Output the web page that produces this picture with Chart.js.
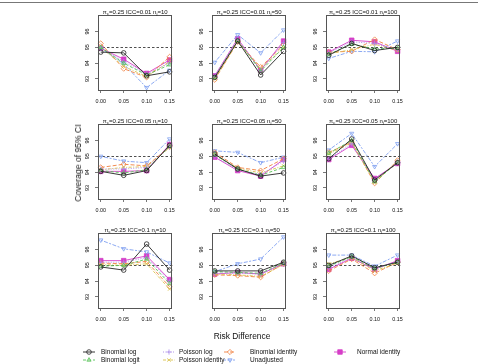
<!DOCTYPE html>
<html>
<head>
<meta charset="utf-8">
<script src="https://cdn.jsdelivr.net/npm/chart.js@4.4.1/dist/chart.umd.min.js"></script>
<style>
  body { margin: 0; background: #fff; }
  #wrap { position: relative; width: 478px; height: 364px; overflow: hidden; font-family: "Liberation Sans", Arial, sans-serif; color: #111; }
  #wrap canvas.panel { position: absolute; }
  .frame { position: absolute; left: 0; top: 2px; width: 478px; height: 0; border-top: 1px solid #777; }
  .txt { will-change: transform; opacity: 0.999; }
  .ylab { position: absolute; left: 78px; top: 163px; font-size: 8.6px; white-space: nowrap; transform: translate(-50%, -50%) rotate(-90deg); }
  .xlab { position: absolute; left: 242px; top: 336px; font-size: 8.4px; white-space: nowrap; transform: translate(-50%, -50%); }
  .legtxt { position: absolute; font-size: 6.5px; white-space: nowrap; line-height: 8px; }
  .legsw { position: absolute; }
</style>
</head>
<body>
<div id="wrap">
  <div class="frame"></div>
  <div class="ylab txt">Coverage of 95% CI</div>
  <div class="xlab txt">Risk Difference</div>
</div>
<script>
// x positions and tick labels
const riskDiff = [0, 0.05, 0.10, 0.15];
const xTickLabels = ['0.00', '0.05', '0.10', '0.15'];
const yTickValues = [93, 94, 95, 96];
const nominalLevel = 95;

const seriesNames = ['Binomial log', 'Binomial logit', 'Poisson log', 'Poisson identity',
                     'Binomial identity', 'Unadjusted', 'Normal identity'];
const piC = '0.25';
const iccLevels = ['0.01', '0.05', '0.1'];   // panel rows
const clusterSizes = ['10', '50', '100'];    // panel columns

// coverage (%) per panel, one row per series in seriesNames order
const covIcc001n10 = [
    [94.7, 94.65, 93.2, 93.45],
    [95.0, 94.0, 93.25, 93.9],
    [95.0, 94.1, 93.3, 94.0],
    [95.0, 93.8, 93.15, 94.1],
    [95.25, 93.65, 93.1, 94.4],
    [94.95, 93.95, 92.45, 93.55],
    [94.95, 94.25, 93.35, 94.2]
];
const covIcc001n50 = [
    [93.1, 95.4, 93.25, 94.75],
    [93.1, 95.45, 93.5, 95.0],
    [93.2, 95.5, 93.55, 95.3],
    [93.0, 95.35, 93.65, 95.0],
    [92.95, 95.35, 93.75, 95.15],
    [94.05, 95.8, 94.65, 96.1],
    [93.2, 95.55, 93.55, 95.4]
];
const covIcc001n100 = [
    [94.5, 95.25, 94.8, 95.0],
    [94.55, 95.2, 94.9, 94.95],
    [94.65, 95.35, 95.25, 94.85],
    [94.6, 94.85, 95.2, 94.8],
    [94.7, 94.75, 95.5, 94.85],
    [94.3, 94.75, 94.72, 95.4],
    [94.7, 95.45, 95.35, 94.75]
];
const covIcc005n10 = [
    [94.05, 93.8, 94.1, 95.7],
    [94.1, 93.95, 94.15, 95.65],
    [94.2, 94.2, 94.3, 95.6],
    [94.15, 94.3, 94.35, 95.55],
    [94.3, 94.5, 94.4, 95.6],
    [95.0, 94.7, 94.6, 96.1],
    [94.05, 94.05, 94.1, 95.75]
];
const covIcc005n50 = [
    [95.15, 94.2, 93.75, 93.95],
    [95.1, 94.2, 93.8, 94.3],
    [95.0, 94.15, 93.85, 94.7],
    [95.1, 94.25, 93.95, 94.4],
    [95.25, 94.3, 94.1, 94.85],
    [95.35, 95.25, 94.6, 94.95],
    [94.95, 94.1, 93.75, 94.8]
];
const covIcc005n100 = [
    [94.85, 96.1, 93.5, 94.6],
    [95.2, 96.0, 93.4, 94.6],
    [94.85, 95.8, 93.5, 94.65],
    [95.15, 95.85, 93.35, 94.7],
    [95.25, 95.9, 93.3, 94.75],
    [95.4, 96.45, 94.35, 95.8],
    [94.8, 95.7, 93.6, 94.55]
];
const covIcc01n10 = [
    [94.9, 94.7, 96.35, 94.7],
    [94.95, 95.0, 95.4, 93.85],
    [95.2, 95.2, 95.5, 94.0],
    [95.05, 95.0, 95.1, 93.5],
    [95.15, 95.1, 95.25, 93.65],
    [96.6, 96.05, 95.85, 95.15],
    [95.3, 95.3, 95.6, 94.1]
];
const covIcc01n50 = [
    [94.65, 94.65, 94.65, 95.2],
    [94.6, 94.55, 94.5, 95.15],
    [94.5, 94.5, 94.45, 95.1],
    [94.45, 94.4, 94.3, 95.05],
    [94.4, 94.35, 94.25, 95.1],
    [94.6, 95.1, 95.4, 96.8],
    [94.45, 94.55, 94.45, 95.1]
];
const covIcc01n100 = [
    [95.0, 95.6, 94.85, 95.2],
    [94.95, 95.55, 94.8, 95.2],
    [94.85, 95.5, 94.8, 95.25],
    [95.1, 95.5, 94.65, 95.15],
    [94.65, 95.4, 94.5, 95.2],
    [95.65, 95.65, 94.95, 95.65],
    [94.75, 95.45, 94.75, 95.3]
];

const panelData = [
    [covIcc001n10, covIcc001n50, covIcc001n100],
    [covIcc005n10, covIcc005n50, covIcc005n100],
    [covIcc01n10, covIcc01n50, covIcc01n100]
];

// look of each series
const seriesStyle = [
    { color: '#222222', fill: 'rgba(0,0,0,0)', point: 'circle',   rot: 0,   r: 2.3, dash: [] },
    { color: '#55c255', fill: 'rgba(0,0,0,0)', point: 'triangle', rot: 0,   r: 2.4, dash: [3, 2] },
    { color: '#a98be8', fill: 'rgba(0,0,0,0)', point: 'cross',    rot: 0,   r: 2.6, dash: [1, 1.5] },
    { color: '#d9c24a', fill: 'rgba(0,0,0,0)', point: 'crossRot', rot: 0,   r: 2.4, dash: [3, 1.5, 1, 1.5] },
    { color: '#f08040', fill: 'rgba(0,0,0,0)', point: 'rectRot',  rot: 0,   r: 2.6, dash: [4, 2] },
    { color: '#7f9ff0', fill: 'rgba(0,0,0,0)', point: 'triangle', rot: 180, r: 2.4, dash: [2, 1.5, 4, 1.5] },
    { color: '#d63ec8', fill: '#d63ec8',       point: 'rect',     rot: 0,   r: 3.2, dash: [] }
];

const boxL = [98, 212, 326];
const boxT = [15, 124, 233];
const boxW = 78, boxH = 75;
const axisW = 24, axisH = 22, titleH = 12, padR = 4;

const panelDecor = {
    id: 'panelDecor',
    beforeDatasetsDraw(chart, args, opts) {
        const { ctx, chartArea: a, scales: { y } } = chart;
        const yy = Math.round(y.getPixelForValue(nominalLevel)) + 0.5;
        ctx.save();
        ctx.strokeStyle = '#222';
        ctx.lineWidth = 0.8;
        ctx.setLineDash([2.5, 2]);
        ctx.beginPath();
        ctx.moveTo(a.left, yy);
        ctx.lineTo(a.right, yy);
        ctx.stroke();
        ctx.restore();
    },
    afterDraw(chart, args, opts) {
        const { ctx, chartArea: a } = chart;
        ctx.save();
        ctx.strokeStyle = '#555';
        ctx.lineWidth = 1;
        ctx.strokeRect(Math.round(a.left) + 0.5, Math.round(a.top) + 0.5,
                       Math.round(a.right - a.left) - 1, Math.round(a.bottom - a.top));
        // title with subscripts
        const mainFont = '6px "Liberation Sans", Arial, sans-serif';
        const subFont = '4.4px "Liberation Sans", Arial, sans-serif';
        const parts = opts.parts;
        let total = 0;
        parts.forEach(p => { ctx.font = p[1] ? subFont : mainFont; total += ctx.measureText(p[0]).width; });
        let x = (a.left + a.right) / 2 - total / 2;
        const base = a.top - 1.5;
        ctx.fillStyle = '#111';
        ctx.textBaseline = 'alphabetic';
        ctx.textAlign = 'left';
        parts.forEach(p => {
            ctx.font = p[1] ? subFont : mainFont;
            ctx.fillText(p[0], x, base + (p[1] ? 1.3 : 0));
            x += ctx.measureText(p[0]).width;
        });
        ctx.restore();
    }
};

const wrap = document.getElementById('wrap');
const tickFont = { family: '"Liberation Sans", Arial, sans-serif', size: 5.4 };

for (let r = 0; r < 3; r++) {
    for (let c = 0; c < 3; c++) {
        const cv = document.createElement('canvas');
        cv.className = 'panel';
        const w = axisW + boxW + padR, h = titleH + boxH + axisH;
        cv.width = w; cv.height = h;
        cv.style.left = (boxL[c] - axisW) + 'px';
        cv.style.top = (boxT[r] - titleH) + 'px';
        cv.style.width = w + 'px'; cv.style.height = h + 'px';
        wrap.appendChild(cv);

        const values = panelData[r][c];
        new Chart(cv, {
            type: 'line',
            data: {
                datasets: values.map((v, i) => ({
                    label: seriesNames[i],
                    data: riskDiff.map((x, k) => ({ x: x, y: v[k] })),
                    borderColor: seriesStyle[i].color,
                    backgroundColor: seriesStyle[i].fill,
                    borderWidth: 0.9,
                    borderDash: seriesStyle[i].dash,
                    pointStyle: seriesStyle[i].point,
                    rotation: seriesStyle[i].rot,
                    pointRadius: seriesStyle[i].r,
                    pointBorderWidth: 0.8,
                    pointBorderColor: seriesStyle[i].color,
                    pointBackgroundColor: seriesStyle[i].fill,
                    tension: 0,
                    clip: false
                }))
            },
            options: {
                animation: false,
                responsive: false,
                devicePixelRatio: 1,
                layout: { padding: { top: titleH, right: padR, left: 0, bottom: 0 } },
                plugins: {
                    legend: { display: false },
                    tooltip: { enabled: false },
                    panelDecor: {
                        parts: [['\u03c0', 0], ['c', 1], ['=' + piC + ' ICC=' + iccLevels[r] + ' n', 0],
                                ['j', 1], ['=' + clusterSizes[c], 0]]
                    }
                },
                scales: {
                    x: {
                        type: 'linear',
                        min: -0.006,
                        max: 0.156,
                        afterBuildTicks: s => { s.ticks = riskDiff.map(v => ({ value: v })); },
                        afterFit: s => { s.height = axisH; },
                        ticks: {
                            callback: (v, i) => xTickLabels[i],
                            font: tickFont, color: '#111', padding: 5,
                            minRotation: 0, maxRotation: 0, autoSkip: false
                        },
                        grid: { drawOnChartArea: false, tickLength: 3, color: '#555', lineWidth: 0.8 },
                        border: { display: false }
                    },
                    y: {
                        min: 92.3,
                        max: 97.05,
                        afterBuildTicks: s => { s.ticks = yTickValues.map(v => ({ value: v })); },
                        afterFit: s => { s.width = axisW; },
                        ticks: {
                            callback: v => String(v),
                            font: tickFont, color: '#111', padding: 4,
                            minRotation: 90, maxRotation: 90, crossAlign: 'center', autoSkip: false
                        },
                        grid: { drawOnChartArea: false, tickLength: 3, color: '#555', lineWidth: 0.8 },
                        border: { display: false }
                    }
                }
            },
            plugins: [panelDecor]
        });
    }
}

// legend: 4 columns, filled column by column
const legendCols = [[0, 1], [2, 3], [4, 5], [6]];
const legendMarkX = [89, 169, 230, 340];   // centre of line sample
const legendTextX = [101, 179, 250, 357];
const legendY = [352, 360];
const drawPoint = (Chart.helpers && Chart.helpers.drawPoint) ? Chart.helpers.drawPoint : null;

legendCols.forEach((col, ci) => {
    col.forEach((si, ri) => {
        const st = seriesStyle[si];
        const sw = document.createElement('canvas');
        sw.className = 'legsw';
        sw.width = 16; sw.height = 8;
        sw.style.left = (legendMarkX[ci] - 8) + 'px';
        sw.style.top = (legendY[ri] - 4) + 'px';
        wrap.appendChild(sw);
        const txt = document.createElement('div');
        txt.className = 'legtxt txt';
        txt.style.left = legendTextX[ci] + 'px';
        txt.style.top = (legendY[ri] - 4) + 'px';
        txt.textContent = seriesNames[si];
        wrap.appendChild(txt);

        const g = sw.getContext('2d');
        g.strokeStyle = st.color;
        g.lineWidth = 0.9;
        g.setLineDash(st.dash);
        g.beginPath(); g.moveTo(2, 4); g.lineTo(14, 4); g.stroke();
        g.setLineDash([]);
        g.fillStyle = st.fill;
        g.lineWidth = 0.8;
        if (drawPoint) {
            drawPoint(g, { pointStyle: st.point, rotation: st.rot, radius: st.r, borderWidth: 0.8 }, 8, 4);
        }
    });
});
</script>
</body>
</html>
